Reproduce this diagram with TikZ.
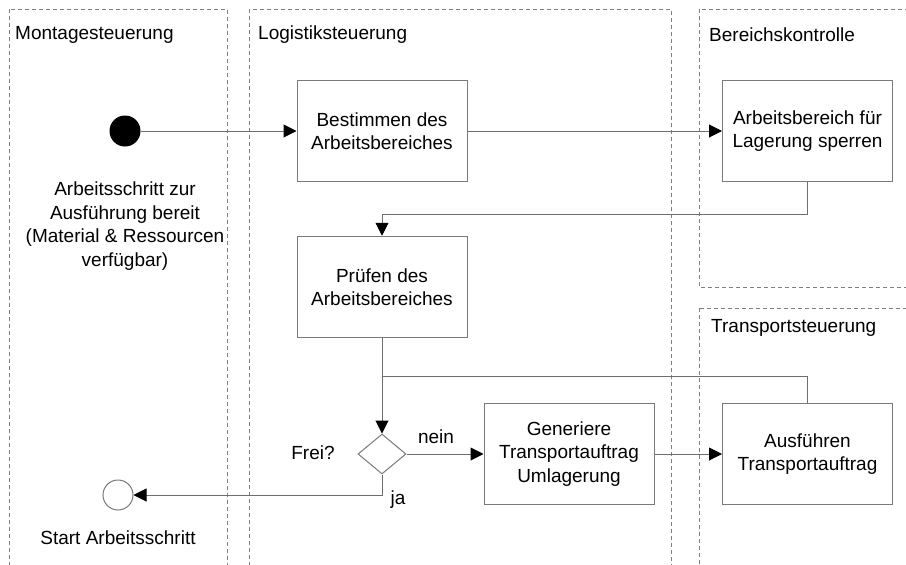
\documentclass[tikz,border=0pt]{standalone}
\usepackage{fontspec}
\setmainfont{Liberation Sans}
\usetikzlibrary{arrows.meta,shapes.geometric}
\definecolor{lanegray}{HTML}{808080}
\definecolor{boxgray}{HTML}{7A7A7A}
\definecolor{linegray}{HTML}{6E6E6E}
\begin{document}
\begin{tikzpicture}[x=1pt,y=-1pt,
  font=\fontsize{19}{23.5}\selectfont,
  lane/.style={draw=lanegray,line width=0.9pt,dash pattern=on 4pt off 3pt},
  lanetitle/.style={anchor=west,inner sep=0pt},
  actbox/.style={draw=boxgray,line width=1pt,minimum width=170pt,minimum height=101.5pt,align=center,inner sep=2pt},
  conn/.style={draw=linegray,line width=1pt},
  arr/.style={conn,-{Triangle[length=13pt,width=13pt,color=black]}},
  lbl/.style={inner sep=0pt}
]
\useasboundingbox (0,0) rectangle (906,565);
\fill[white] (0,0) rectangle (906,565);
\begin{scope}
\clip (0,0) rectangle (906,565);
\draw[lane] (9,9) rectangle (227,620);
\draw[lane] (249,9) rectangle (671,620);
\draw[lane] (699,9) rectangle (960,287);
\draw[lane] (699,308) rectangle (960,620);
\end{scope}
\node[lanetitle] (t1) at (15,35) {Montagesteuerung};
\node[lanetitle] (t2) at (258,35) {Logistiksteuerung};
\node[lanetitle] (t3) at (709,35) {Bereichskontrolle};
\node[lanetitle] (t4) at (711,328) {Transportsteuerung};

\node[circle,fill=black,minimum size=31pt,inner sep=0pt] (start) at (125,131) {};
\node[align=center,inner sep=0pt] (desc) at (125,226) {Arbeitsschritt zur\\Ausführung bereit\\(Material \& Ressourcen\\verfügbar)};
\node[circle,draw=boxgray,line width=1pt,fill=white,minimum size=30pt,inner sep=0pt] (ende) at (118,495) {};
\node[lbl] (startlbl) at (118,538) {Start Arbeitsschritt};

\node[actbox] (bestimmen) at (382,131) {Bestimmen des\\Arbeitsbereiches};
\node[actbox] (sperren) at (807.5,131) {Arbeitsbereich für\\Lagerung sperren};
\node[actbox] (pruefen) at (382,287) {Prüfen des\\Arbeitsbereiches};
\node[diamond,draw=boxgray,line width=1pt,minimum width=48pt,minimum height=40pt,inner sep=0pt] (frei) at (382,454) {};
\node[actbox] (generiere) at (569,454) {Generiere\\Transportauftrag\\Umlagerung};
\node[actbox] (ausfuehren) at (807.5,454) {Ausführen\\Transportauftrag};

\node[lbl] (freilbl) at (313,453) {Frei?};
\node[lbl] (neinlbl) at (436,437) {nein};
\node[lbl] (jalbl) at (398,500) {ja};

\coordinate (k1) at (382,214);
\coordinate (m1) at (382,376);

\draw[arr] (start) -- (bestimmen);
\draw[arr] (bestimmen) -- (sperren);
\draw[arr] (sperren.south) |- (k1) -- (pruefen.north);
\draw[arr] (pruefen.south) -- (frei.north);
\draw[conn] (ausfuehren.north) |- (m1);
\draw[arr] (frei.east) -- (generiere.west);
\draw[arr] (generiere.east) -- (ausfuehren.west);
\draw[arr] (frei.south) |- (ende.east);
\end{tikzpicture}
\end{document}
